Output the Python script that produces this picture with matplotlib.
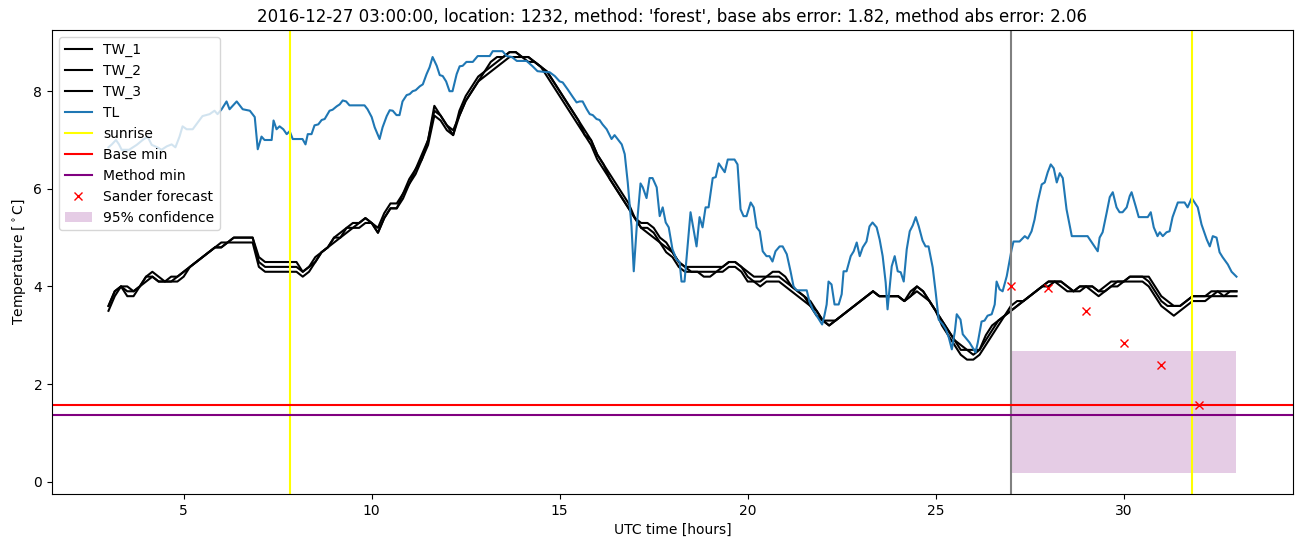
import matplotlib
matplotlib.use("Agg")
import matplotlib.pyplot as plt
import numpy as np

# TL readings (hour, degC)
tl_hours = [
    3.0, 3.09, 3.2, 3.28, 3.35, 3.55, 3.75, 3.91, 4.04, 4.15, 4.3, 4.41, 4.55, 4.68, 4.78, 4.89, 4.97,
    5.08, 5.24, 5.5, 5.69, 5.82, 5.9, 6.01, 6.14, 6.22, 6.41, 6.57, 6.76, 6.89, 6.97, 7.07, 7.15,
    7.34, 7.39, 7.47, 7.55, 7.65, 7.74, 7.82, 7.9, 8.16, 8.24, 8.3, 8.4, 8.48, 8.58, 8.67, 8.75,
    8.88, 8.96, 9.07, 9.15, 9.23, 9.32, 9.41, 9.81, 9.89, 10.0, 10.08, 10.21, 10.29, 10.4, 10.48,
    10.56, 10.66, 10.74, 10.82, 10.93, 11.01, 11.09, 11.17, 11.28, 11.36, 11.46, 11.54, 11.62,
    11.73, 11.81, 11.89, 11.98, 12.07, 12.15, 12.26, 12.34, 12.42, 12.52, 12.69, 12.82, 13.14,
    13.22, 13.48, 13.59, 13.73, 13.86, 14.12, 14.28, 14.41, 14.65, 14.73, 14.87, 15.0, 15.08,
    15.21, 15.35, 15.45, 15.53, 15.61, 15.72, 15.8, 15.88, 15.98, 16.06, 16.14, 16.25, 16.38,
    16.46, 16.54, 16.65, 16.73, 16.81, 16.91, 16.97, 17.05, 17.15, 17.21, 17.31, 17.39, 17.47,
    17.58, 17.66, 17.74, 17.82, 17.9, 18.0, 18.11, 18.19, 18.24, 18.32, 18.4, 18.48, 18.56, 18.64,
    18.72, 18.8, 18.88, 18.96, 19.07, 19.15, 19.23, 19.39, 19.47, 19.65, 19.73, 19.81, 19.89,
    19.97, 20.08, 20.16, 20.24, 20.32, 20.4, 20.5, 20.58, 20.66, 20.74, 20.85, 20.93, 21.04,
    21.14, 21.22, 21.3, 21.57, 21.65, 21.73, 21.98, 22.04, 22.1, 22.15, 22.23, 22.31, 22.42,
    22.5, 22.55, 22.63, 22.74, 22.82, 22.9, 22.98, 23.06, 23.16, 23.24, 23.32, 23.43, 23.51,
    23.59, 23.67, 23.72, 23.83, 23.91, 23.99, 24.07, 24.15, 24.23, 24.31, 24.39, 24.47, 24.55,
    24.65, 24.73, 24.81, 24.92, 25.0, 25.08, 25.19, 25.27, 25.35, 25.43, 25.51, 25.56, 25.66,
    25.72, 25.9, 26.06, 26.12, 26.22, 26.3, 26.38, 26.49, 26.57, 26.62, 26.7, 26.78, 26.89,
    26.97, 27.02, 27.07, 27.23, 27.37, 27.45, 27.55, 27.63, 27.71, 27.82, 27.9, 27.98, 28.06,
    28.14, 28.22, 28.3, 28.38, 28.48, 28.62, 29.04, 29.31, 29.36, 29.44, 29.55, 29.63, 29.71,
    29.81, 29.89, 29.97, 30.08, 30.16, 30.21, 30.32, 30.4, 30.64, 30.72, 30.8, 30.9, 30.96,
    31.04, 31.14, 31.22, 31.3, 31.44, 31.62, 31.7, 31.81, 31.97, 32.07, 32.21, 32.29, 32.37,
    32.47, 32.55, 32.63, 32.77, 32.87, 33.0,
]
tl_values = [
    6.85, 6.91, 7.0, 6.91, 6.8, 6.8, 6.9, 7.0, 7.07, 6.9, 6.85, 6.8, 6.87, 6.91, 6.85, 7.07, 7.28,
    7.22, 7.22, 7.49, 7.53, 7.6, 7.53, 7.63, 7.79, 7.63, 7.79, 7.63, 7.6, 7.47, 6.81, 7.07, 7.0,
    7.0, 7.4, 7.22, 7.28, 7.22, 7.12, 7.18, 7.02, 7.02, 6.91, 7.12, 7.12, 7.3, 7.32, 7.41, 7.43,
    7.6, 7.62, 7.69, 7.73, 7.81, 7.79, 7.71, 7.71, 7.63, 7.47, 7.26, 7.02, 7.26, 7.49, 7.61,
    7.6, 7.51, 7.51, 7.79, 7.92, 7.94, 8.0, 8.02, 8.1, 8.14, 8.35, 8.49, 8.7,
    8.52, 8.33, 8.31, 8.2, 8.0, 8.0, 8.35, 8.51, 8.52, 8.6, 8.6, 8.72, 8.72,
    8.82, 8.82, 8.72, 8.7, 8.62, 8.62, 8.51, 8.41, 8.39, 8.39, 8.31, 8.2, 8.18,
    8.04, 7.88, 7.77, 7.79, 7.79, 7.63, 7.53, 7.51, 7.43, 7.41, 7.32, 7.22, 7.02,
    7.1, 7.02, 6.91, 6.71, 6.13, 5.23, 4.31, 5.23, 6.11, 6.03, 5.81, 6.22, 6.22,
    6.03, 5.44, 5.62, 5.31, 5.21, 4.76, 4.55, 4.5, 4.1, 4.1, 4.82, 5.52, 5.17, 4.82,
    5.42, 5.21, 5.62, 5.62, 6.22, 6.24, 6.52, 6.34, 6.6, 6.6, 6.5, 5.58, 5.44,
    5.44, 5.72, 5.62, 5.21, 5.13, 4.72, 4.62, 4.62, 4.51, 4.72, 4.82, 4.82, 4.66,
    4.31, 4.0, 3.92, 3.92, 3.67, 3.53, 3.22, 3.4, 3.63, 4.1, 4.04, 3.63, 3.63,
    3.84, 4.31, 4.31, 4.62, 4.72, 4.9, 4.62, 4.8, 4.92, 5.23, 5.31, 5.21, 4.96,
    4.62, 4.08, 3.53, 4.41, 4.62, 4.31, 4.29, 4.1, 4.76, 5.13, 5.25, 5.42, 5.23,
    4.94, 4.82, 4.82, 4.39, 3.88, 3.32, 3.22, 3.12, 2.95, 2.71, 3.08, 3.43, 3.32,
    3.02, 2.85, 2.65, 2.85, 3.28, 3.3, 3.4, 3.43, 3.63, 4.1, 3.94, 3.9, 4.21,
    4.55, 4.76, 4.92, 4.92, 5.03, 4.98, 5.13, 5.37, 5.72, 6.09, 6.13, 6.34, 6.5,
    6.42, 6.13, 6.32, 6.22, 5.58, 5.03, 5.03, 4.72, 5.0, 5.11, 5.52, 5.83, 5.93,
    5.62, 5.52, 5.52, 5.62, 5.85, 5.93, 5.64, 5.42, 5.42, 5.52, 5.21, 5.03, 5.11,
    5.03, 5.11, 5.13, 5.42, 5.72, 5.72, 5.62, 5.81, 5.62, 5.27, 4.96, 4.82, 5.03,
    5.0, 4.7, 4.6, 4.45, 4.3, 4.2,
]

# TW readings, every 10 minutes from 03:00 to 33:00
tw_1 = [
    3.5, 3.8, 4.0, 4.0, 3.9, 4.0,
    4.2, 4.3, 4.2, 4.1, 4.2, 4.2,
    4.3, 4.4, 4.5, 4.6, 4.7, 4.8,
    4.9, 4.9, 5.0, 5.0, 5.0, 5.0,
    4.6, 4.5, 4.5, 4.5, 4.5, 4.5,
    4.5, 4.3, 4.4, 4.5, 4.7, 4.8,
    5.0, 5.1, 5.2, 5.2, 5.3, 5.4,
    5.3, 5.2, 5.5, 5.7, 5.7, 5.9,
    6.1, 6.4, 6.7, 7.0, 7.7, 7.5,
    7.3, 7.1, 7.6, 7.9, 8.1, 8.3,
    8.4, 8.6, 8.7, 8.7, 8.8, 8.8,
    8.7, 8.6, 8.6, 8.5, 8.3, 8.1,
    7.9, 7.7, 7.5, 7.3, 7.1, 6.9,
    6.6, 6.4, 6.2, 6.0, 5.8, 5.6,
    5.4, 5.3, 5.3, 5.2, 5.0, 4.9,
    4.7, 4.5, 4.4, 4.4, 4.4, 4.4,
    4.4, 4.4, 4.4, 4.5, 4.5, 4.4,
    4.3, 4.2, 4.2, 4.2, 4.3, 4.3,
    4.2, 4.0, 3.9, 3.8, 3.7, 3.5,
    3.3, 3.2, 3.3, 3.4, 3.5, 3.6,
    3.7, 3.8, 3.9, 3.8, 3.8, 3.8,
    3.8, 3.7, 3.9, 4.0, 3.9, 3.7,
    3.5, 3.3, 3.1, 2.9, 2.8, 2.7,
    2.7, 2.7, 3.0, 3.2, 3.3, 3.4,
    3.6, 3.7, 3.7, 3.8, 3.9, 4.0,
    4.1, 4.1, 4.1, 4.0, 3.9, 4.0,
    4.0, 4.0, 3.9, 4.0, 4.1, 4.1,
    4.1, 4.2, 4.2, 4.2, 4.2, 4.0,
    3.8, 3.7, 3.6, 3.6, 3.7, 3.8,
    3.8, 3.8, 3.8, 3.9, 3.9, 3.9,
    3.9,
]
tw_2 = [
    3.6, 3.9, 4.0, 3.9, 3.9, 4.0,
    4.2, 4.2, 4.1, 4.1, 4.1, 4.2,
    4.3, 4.4, 4.5, 4.6, 4.7, 4.8,
    4.8, 4.9, 5.0, 5.0, 5.0, 5.0,
    4.5, 4.4, 4.4, 4.4, 4.4, 4.4,
    4.4, 4.3, 4.4, 4.6, 4.7, 4.8,
    5.0, 5.0, 5.2, 5.3, 5.3, 5.4,
    5.3, 5.1, 5.4, 5.6, 5.6, 5.9,
    6.2, 6.4, 6.6, 7.0, 7.6, 7.5,
    7.3, 7.2, 7.5, 7.8, 8.0, 8.2,
    8.4, 8.5, 8.6, 8.7, 8.8, 8.8,
    8.7, 8.7, 8.6, 8.5, 8.4, 8.2,
    8.0, 7.8, 7.6, 7.4, 7.1, 7.0,
    6.7, 6.5, 6.2, 6.0, 5.8, 5.6,
    5.4, 5.2, 5.2, 5.1, 4.9, 4.8,
    4.7, 4.5, 4.4, 4.3, 4.3, 4.3,
    4.3, 4.3, 4.4, 4.5, 4.5, 4.4,
    4.2, 4.1, 4.1, 4.2, 4.2, 4.2,
    4.1, 4.0, 3.9, 3.8, 3.6, 3.5,
    3.3, 3.3, 3.3, 3.4, 3.5, 3.6,
    3.7, 3.8, 3.9, 3.8, 3.8, 3.8,
    3.8, 3.7, 3.8, 4.0, 3.9, 3.7,
    3.5, 3.3, 3.1, 2.9, 2.7, 2.7,
    2.6, 2.7, 2.9, 3.1, 3.3, 3.4,
    3.5, 3.6, 3.7, 3.8, 3.9, 4.0,
    4.1, 4.1, 4.1, 4.0, 3.9, 4.0,
    4.0, 4.0, 3.9, 3.9, 4.0, 4.1,
    4.1, 4.2, 4.2, 4.2, 4.1, 3.9,
    3.7, 3.6, 3.6, 3.6, 3.7, 3.8,
    3.8, 3.8, 3.9, 3.9, 3.8, 3.9,
    3.9,
]
tw_3 = [
    3.6, 3.9, 4.0, 3.8, 3.8, 4.0,
    4.1, 4.2, 4.1, 4.1, 4.1, 4.1,
    4.2, 4.4, 4.5, 4.6, 4.7, 4.8,
    4.8, 4.9, 4.9, 4.9, 4.9, 4.9,
    4.4, 4.3, 4.3, 4.3, 4.3, 4.3,
    4.3, 4.2, 4.3, 4.5, 4.7, 4.8,
    4.9, 5.0, 5.1, 5.2, 5.2, 5.3,
    5.3, 5.1, 5.4, 5.6, 5.6, 5.8,
    6.1, 6.3, 6.6, 6.9, 7.5, 7.4,
    7.2, 7.1, 7.5, 7.8, 8.0, 8.2,
    8.3, 8.4, 8.5, 8.6, 8.7, 8.7,
    8.7, 8.7, 8.6, 8.5, 8.4, 8.2,
    8.0, 7.8, 7.6, 7.4, 7.2, 7.0,
    6.7, 6.5, 6.3, 6.1, 5.9, 5.7,
    5.4, 5.2, 5.1, 5.0, 4.9, 4.7,
    4.6, 4.4, 4.3, 4.3, 4.3, 4.2,
    4.2, 4.3, 4.3, 4.4, 4.4, 4.3,
    4.1, 4.1, 4.0, 4.1, 4.1, 4.1,
    4.0, 3.9, 3.8, 3.7, 3.6, 3.4,
    3.3, 3.2, 3.3, 3.4, 3.5, 3.6,
    3.7, 3.8, 3.9, 3.8, 3.8, 3.8,
    3.8, 3.7, 3.8, 3.9, 3.8, 3.7,
    3.5, 3.2, 3.0, 2.8, 2.6, 2.5,
    2.5, 2.6, 2.8, 3.0, 3.2, 3.4,
    3.5, 3.6, 3.7, 3.8, 3.9, 4.0,
    4.0, 4.1, 4.0, 3.9, 3.9, 3.9,
    4.0, 3.9, 3.8, 3.9, 4.0, 4.0,
    4.1, 4.1, 4.1, 4.1, 4.0, 3.8,
    3.6, 3.5, 3.4, 3.5, 3.6, 3.7,
    3.7, 3.7, 3.8, 3.8, 3.8, 3.8,
    3.8,
]
tw_hours = 3 + np.arange(len(tw_1)) / 6

sunrise_hours = [7.82, 31.82]
forecast_start = 27.0
base_min = 1.58
method_min = 1.36
forecast_hours = [27, 28, 29, 30, 31, 32]
forecast_values = [4.0, 3.96, 3.49, 2.85, 2.38, 1.58]
conf_hours = [27.0, 33.0]
conf_low = 0.18
conf_high = 2.67

title = ("2016-12-27 03:00:00, location: 1232, method: 'forest', "
         "base abs error: 1.82, method abs error: 2.06")

fig, ax = plt.subplots(figsize=(13.02, 5.47))

ax.plot(tw_hours, tw_1, color="black", label="TW_1")
ax.plot(tw_hours, tw_2, color="black", label="TW_2")
ax.plot(tw_hours, tw_3, color="black", label="TW_3")
ax.plot(tl_hours, tl_values, color="tab:blue", label="TL")
ax.axvline(sunrise_hours[0], color="yellow", label="sunrise")
ax.axvline(sunrise_hours[1], color="yellow")
ax.axvline(forecast_start, color="gray")
ax.axhline(base_min, color="red", label="Base min")
ax.axhline(method_min, color="purple", label="Method min")
ax.plot(forecast_hours, forecast_values, "rx", label="Sander forecast")
ax.fill_between(conf_hours, conf_low, conf_high, color="purple", alpha=0.2,
                linewidth=0, label="95% confidence")

ax.set_title(title)
ax.set_xlabel("UTC time [hours]")
ax.set_ylabel(r"Temperature [$^\circ$C]")
ax.legend(loc="upper left")

plt.subplots_adjust(left=0.04, right=0.993, top=0.945, bottom=0.097)
plt.savefig("out.png", dpi=100)
plt.close()
